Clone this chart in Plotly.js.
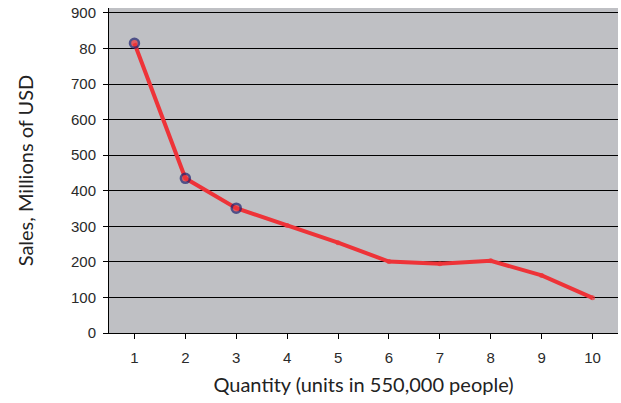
<!DOCTYPE html>
<html>
<head>
<meta charset="utf-8">
<script src="https://cdn.plot.ly/plotly-3.0.1.min.js"></script>
<style>
  html, body { margin: 0; padding: 0; background: #ffffff; }
  #chart { width: 621px; height: 403px; }
</style>
</head>
<body>
<div id="chart"></div>
<script>
// Quantity categories and sales (millions of USD)
const quantity = [1, 2, 3, 4, 5, 6, 7, 8, 9, 10];
const sales = [815, 435, 351, 302, 254, 201, 195, 203, 162, 99];

// Y tick values and their printed labels
const yTickVals = [0, 100, 200, 300, 400, 500, 600, 700, 800, 900];
const yTickText = ['0', '100', '200', '300', '400', '500', '600', '700', '80', '900'];

// Highlighted points get a navy ring
const ringed = [true, true, true, false, false, false, false, false, false, false];

const trace = {
  x: quantity,
  y: sales,
  type: 'scatter',
  mode: 'lines+markers',
  line: { color: '#ee3338', width: 4 },
  marker: {
    size: ringed.map(r => r ? 9 : 5),
    color: '#ee3338',
    line: { color: ringed.map(r => r ? '#1f2270' : '#ee3338'), width: ringed.map(r => r ? 2.5 : 0) }
  },
  hoverinfo: 'x+y'
};

const tickFont = { family: 'Liberation Sans, Arial, sans-serif', size: 15, color: '#2a2a2a' };
const titleFont = { family: 'Lato, sans-serif', size: 20, color: '#222222' };

const layout = {
  width: 621,
  height: 403,
  margin: { l: 109, r: 3, t: 8, b: 70 },
  paper_bgcolor: '#ffffff',
  plot_bgcolor: '#bfc0c4',
  showlegend: false,
  xaxis: {
    range: [0.5, 10.5],
    tickvals: quantity,
    ticktext: quantity.map(String),
    showgrid: false,
    zeroline: false,
    showline: true,
    linecolor: '#000000',
    linewidth: 1,
    ticks: 'outside',
    tickson: 'boundaries',
    ticklen: 5,
    tickcolor: '#000000',
    ticklabelstandoff: 6,
    tickfont: tickFont,
    title: { text: 'Quantity (units in 550,000 people)', font: titleFont, standoff: 12 },
    fixedrange: true
  },
  yaxis: {
    range: [0, 914],
    tickvals: yTickVals,
    ticktext: yTickText,
    showgrid: true,
    gridcolor: '#000000',
    gridwidth: 1,
    zeroline: false,
    showline: true,
    linecolor: '#000000',
    linewidth: 1,
    ticks: 'outside',
    ticklen: 5,
    tickcolor: '#000000',
    ticklabelstandoff: 4,
    tickfont: tickFont,
    title: { text: 'Sales, Millions of USD', font: titleFont, standoff: 31 },
    fixedrange: true
  }
};

Plotly.newPlot('chart', [trace], layout, { displayModeBar: false, staticPlot: true });
</script>
</body>
</html>
